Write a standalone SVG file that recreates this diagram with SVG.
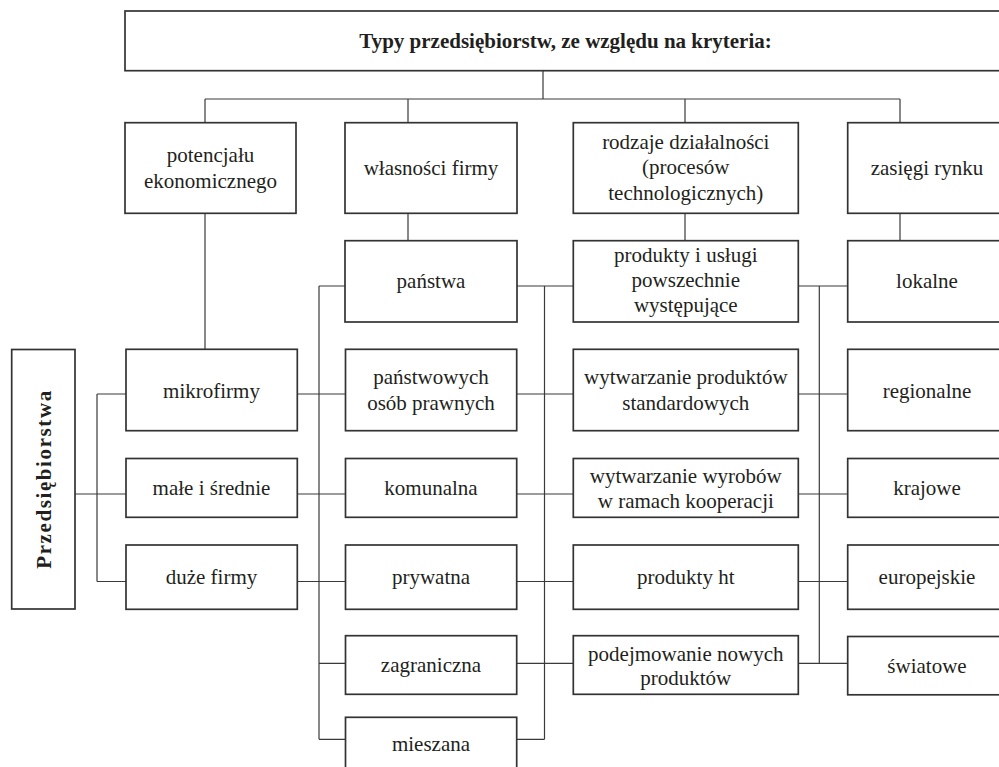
<svg xmlns="http://www.w3.org/2000/svg" width="999" height="767" viewBox="0 0 999 767">
<style>
.box{fill:#fff;stroke:#333;stroke-width:1.7}
.ln{fill:none;stroke:#3a3a3a;stroke-width:1.2}
.t text{font-size:21px;fill:#231f20;text-anchor:middle}
.b{font-weight:bold}
</style>
<rect width="999" height="767" fill="#fff"/>
<g id="connectors">
<path class="ln" d="M543 70.7V99M205 99H900M205 99V122.7M408 99V122.7M685 99V122.7M900 99V122.7"/>
<path class="ln" d="M205 213.3V349.3M408 213.3V240.7M685 213.3V240.7M900 213.3V240.7"/>
<path class="ln" d="M75 494H126M97 394V581.5M97 394H126M97 581.5H126"/>
<path class="ln" d="M297 394H345M517 394H573M798 394H848"/>
<path class="ln" d="M297 494H345M517 494H573M798 494H848"/>
<path class="ln" d="M297 581.5H345M517 581.5H573M798 581.5H848"/>
<path class="ln" d="M319 286H345M517 286H573M798 286H848"/>
<path class="ln" d="M319 663.3H345M517 663.3H573M798 663.3H848"/>
<path class="ln" d="M319 739.3H345M517 739.3H544.5"/>
<path class="ln" d="M319 286V739.3M544.5 286V739.3M819.3 286V663.3"/>
</g>
<g class="t" font-family="'Liberation Serif', 'Times New Roman', Tinos, 'DejaVu Serif', serif">
<g id="title"><rect class="box" x="125" y="11" width="881" height="59.7"/><text class="b" x="565.5" y="48" font-size="21.8">Typy przedsiębiorstw, ze względu na kryteria:</text></g>
<g id="przedsiebiorstwa"><rect class="box" x="11.7" y="349.5" width="63.3" height="259.5"/><text class="b" transform="translate(50.5 479) rotate(-90)" x="0" y="0" font-size="22.5" letter-spacing="1.6">Przedsiębiorstwa</text></g>
<g id="potencjal"><rect class="box" x="125" y="122.7" width="171" height="90.6"/><text x="210.5" y="162">potencjału</text><text x="210.5" y="188">ekonomicznego</text></g>
<g id="wlasnosc"><rect class="box" x="345" y="122.7" width="172" height="90.6"/><text x="431" y="175">własności firmy</text></g>
<g id="rodzaje"><rect class="box" x="573.3" y="122.7" width="225" height="90.6"/><text x="685.8" y="148.5">rodzaje działalności</text><text x="685.8" y="174">(procesów</text><text x="685.8" y="199.5">technologicznych)</text></g>
<g id="zasiegi"><rect class="box" x="847.7" y="122.7" width="158.3" height="90.6"/><text x="927" y="175">zasięgi rynku</text></g>
<g id="panstwa"><rect class="box" x="345" y="240.7" width="172" height="81.3"/><text x="431" y="288">państwa</text></g>
<g id="produkty-uslugi"><rect class="box" x="573.3" y="240.7" width="225" height="81.3"/><text x="685.8" y="262">produkty i usługi</text><text x="685.8" y="287">powszechnie</text><text x="685.8" y="312">występujące</text></g>
<g id="lokalne"><rect class="box" x="847.7" y="240.7" width="158.3" height="81.3"/><text x="927" y="288">lokalne</text></g>
<g id="mikrofirmy"><rect class="box" x="126" y="349.3" width="171.3" height="81.4"/><text x="211.5" y="397.5">mikrofirmy</text></g>
<g id="panstwowych"><rect class="box" x="345.5" y="349.3" width="171.2" height="81.4"/><text x="431" y="384.3">państwowych</text><text x="431" y="410">osób prawnych</text></g>
<g id="wytwarzanie-standard"><rect class="box" x="573.3" y="349.3" width="225" height="81.4"/><text x="685.8" y="384.3">wytwarzanie produktów</text><text x="685.8" y="410">standardowych</text></g>
<g id="regionalne"><rect class="box" x="847.7" y="349.3" width="158.3" height="81.4"/><text x="927" y="397.5">regionalne</text></g>
<g id="male"><rect class="box" x="126" y="458.5" width="171.3" height="58.8"/><text x="211.5" y="495">małe i średnie</text></g>
<g id="komunalna"><rect class="box" x="345.5" y="458.5" width="171.2" height="58.8"/><text x="431" y="495">komunalna</text></g>
<g id="wytwarzanie-koop"><rect class="box" x="573.3" y="458.5" width="225" height="58.8"/><text x="685.8" y="482.5">wytwarzanie wyrobów</text><text x="685.8" y="507.5">w ramach kooperacji</text></g>
<g id="krajowe"><rect class="box" x="847.7" y="458.5" width="158.3" height="58.8"/><text x="927" y="495">krajowe</text></g>
<g id="duze"><rect class="box" x="126" y="545" width="171.3" height="64.3"/><text x="211.5" y="584">duże firmy</text></g>
<g id="prywatna"><rect class="box" x="345.5" y="545" width="171.2" height="64.3"/><text x="431" y="584">prywatna</text></g>
<g id="produkty-ht"><rect class="box" x="573.3" y="545" width="225" height="64.3"/><text x="685.8" y="584">produkty ht</text></g>
<g id="europejskie"><rect class="box" x="847.7" y="545" width="158.3" height="64.3"/><text x="927" y="584">europejskie</text></g>
<g id="zagraniczna"><rect class="box" x="345.5" y="635.7" width="171.2" height="58.6"/><text x="431" y="672">zagraniczna</text></g>
<g id="podejmowanie"><rect class="box" x="573.3" y="635.7" width="225" height="58.6"/><text x="685.8" y="661">podejmowanie nowych</text><text x="685.8" y="685">produktów</text></g>
<g id="swiatowe"><rect class="box" x="847.7" y="636.5" width="158.3" height="58.3"/><text x="927" y="672.5">światowe</text></g>
<g id="mieszana"><rect class="box" x="345.5" y="717.3" width="171.2" height="70"/><text x="431" y="750.7">mieszana</text></g>
</g>
</svg>
